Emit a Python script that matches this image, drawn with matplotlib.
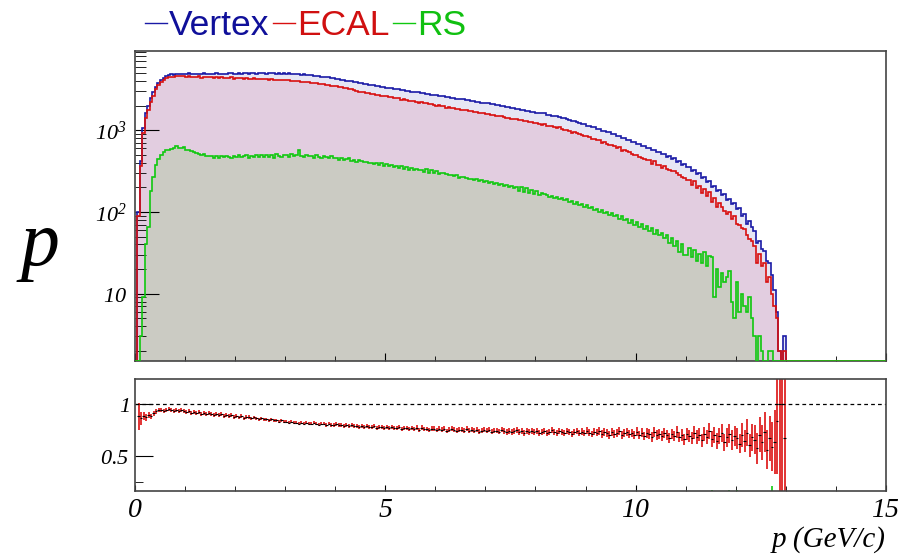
import matplotlib.pyplot as plt
import numpy as np
from matplotlib.lines import Line2D
from matplotlib.ticker import FixedLocator, FuncFormatter, MultipleLocator, LogLocator, NullFormatter

plt.rcParams['mathtext.fontset'] = 'custom'
plt.rcParams['mathtext.rm'] = 'Liberation Serif:italic'
plt.rcParams['mathtext.it'] = 'Liberation Serif:italic'

# momentum bins of 0.05 GeV/c, 0..13 GeV/c filled, empty up to 15
bin_width = 0.05
p_max = 15.0

vertex = [
    0, 100, 420, 1050, 1600, 2000, 2500, 2900, 3400, 3800,
    4100, 4400, 4600, 4750, 4810, 4780, 4860, 4890, 4930, 4900,
    4860, 4950, 4880, 4910, 4870, 4930, 4890, 4940, 4900, 4880,
    4920, 4890, 4950, 4870, 4910, 4930, 4880, 4940, 4960, 4900,
    4920, 4960, 4900, 4940, 4980, 4910, 4950, 4990, 4930, 4960,
    4940, 4980, 4920, 4960, 5010, 4950, 4930, 4970, 4910, 4940,
    4900, 4950, 4860, 4890, 4830, 4870, 4790, 4810, 4740, 4730,
    4690, 4660, 4610, 4570, 4520, 4490, 4430, 4410, 4340, 4320,
    4250, 4220, 4160, 4110, 4050, 4020, 3950, 3910, 3840, 3810,
    3740, 3710, 3650, 3610, 3560, 3530, 3470, 3440, 3390, 3370,
    3320, 3300, 3250, 3230, 3180, 3160, 3110, 3090, 3040, 3020,
    2970, 2960, 2910, 2890, 2840, 2830, 2790, 2770, 2730, 2710,
    2660, 2650, 2600, 2590, 2540, 2540, 2490, 2480, 2440, 2430,
    2380, 2380, 2330, 2320, 2280, 2270, 2230, 2220, 2180, 2170,
    2130, 2120, 2080, 2070, 2030, 2020, 1980, 1970, 1930, 1920,
    1880, 1870, 1830, 1820, 1780, 1780, 1730, 1730, 1690, 1690,
    1640, 1640, 1600, 1600, 1550, 1550, 1510, 1510, 1470, 1460,
    1420, 1410, 1360, 1350, 1300, 1290, 1250, 1240, 1190, 1190,
    1140, 1130, 1090, 1080, 1040, 1030, 990, 990, 940, 940,
    900, 890, 850, 850, 800, 800, 760, 760, 720, 720,
    680, 680, 640, 640, 600, 600, 570, 570, 540, 535,
    505, 510, 475, 480, 445, 455, 410, 420, 380, 390,
    350, 355, 318, 330, 288, 298, 262, 270, 232, 238,
    200, 208, 178, 186, 160, 164, 140, 142, 124, 128,
    108, 112, 90, 95, 72, 78, 65, 58, 42, 44,
    35, 33, 25, 24, 17, 11, 6, 2, 1, 3,
]

ecal_over_vertex = [
    0.00, 0.88, 0.86, 0.88, 0.87, 0.89, 0.88, 0.91, 0.93, 0.94,
    0.94, 0.93, 0.94, 0.95, 0.94, 0.93, 0.94, 0.93, 0.94, 0.93,
    0.92, 0.93, 0.91, 0.92, 0.91, 0.92, 0.90, 0.91, 0.90, 0.91,
    0.90, 0.89, 0.90, 0.89, 0.90, 0.88, 0.89, 0.88, 0.89, 0.87,
    0.88, 0.87, 0.88, 0.86, 0.87, 0.87, 0.86, 0.87, 0.86, 0.85,
    0.86, 0.85, 0.85, 0.84, 0.85, 0.84, 0.84, 0.83, 0.84, 0.83,
    0.83, 0.82, 0.83, 0.82, 0.82, 0.81, 0.82, 0.81, 0.82, 0.81,
    0.81, 0.82, 0.81, 0.80, 0.81, 0.81, 0.80, 0.81, 0.80, 0.80,
    0.81, 0.80, 0.80, 0.79, 0.80, 0.79, 0.80, 0.79, 0.79, 0.78,
    0.79, 0.78, 0.79, 0.78, 0.78, 0.79, 0.77, 0.78, 0.78, 0.77,
    0.78, 0.77, 0.78, 0.77, 0.77, 0.78, 0.76, 0.77, 0.77, 0.76,
    0.77, 0.76, 0.77, 0.75, 0.77, 0.76, 0.76, 0.75, 0.76, 0.76,
    0.75, 0.76, 0.75, 0.76, 0.74, 0.75, 0.76, 0.75, 0.74, 0.75,
    0.75, 0.74, 0.76, 0.74, 0.75, 0.74, 0.75, 0.73, 0.74, 0.75,
    0.74, 0.75, 0.73, 0.74, 0.74, 0.73, 0.75, 0.74, 0.73, 0.74,
    0.73, 0.74, 0.75, 0.73, 0.74, 0.72, 0.74, 0.73, 0.74, 0.73,
    0.74, 0.72, 0.73, 0.74, 0.72, 0.73, 0.75, 0.73, 0.72, 0.74,
    0.73, 0.72, 0.74, 0.73, 0.71, 0.73, 0.74, 0.72, 0.73, 0.72,
    0.74, 0.72, 0.71, 0.73, 0.72, 0.74, 0.71, 0.73, 0.72, 0.70,
    0.73, 0.71, 0.72, 0.74, 0.70, 0.72, 0.73, 0.71, 0.72, 0.70,
    0.73, 0.70, 0.72, 0.69, 0.72, 0.71, 0.68, 0.73, 0.70, 0.71,
    0.69, 0.72, 0.70, 0.67, 0.71, 0.69, 0.73, 0.68, 0.70, 0.66,
    0.71, 0.69, 0.67, 0.72, 0.68, 0.70, 0.65, 0.71, 0.68, 0.74,
    0.66, 0.70, 0.64, 0.69, 0.72, 0.63, 0.68, 0.71, 0.65, 0.69,
    0.67, 0.62, 0.70, 0.64, 0.72, 0.60, 0.68, 0.66, 0.58, 0.70,
    0.63, 0.74, 0.55, 0.68, 0.59, 0.64, 0.80, 1.00, 1.00, 0.67,
]

rs = [
    0, 0, 3, 9, 40, 66, 178, 270, 377, 443,
    500, 548, 575, 580, 590, 600, 640, 610, 600, 620,
    580, 570, 560, 545, 530, 510, 500, 505, 490, 480,
    485, 460, 478, 455, 490, 465, 482, 470, 455, 488,
    465, 495, 470, 480, 500, 462, 488, 472, 498, 476,
    492, 468, 500, 476, 494, 462, 505, 480, 470, 498,
    492, 472, 505, 480, 498, 565, 486, 470, 498, 480,
    482, 462, 494, 470, 458, 484, 465, 452, 478, 458,
    460, 436, 462, 432, 440, 452, 418, 436, 412, 428,
    420, 408, 410, 400, 398, 390, 394, 376, 398, 368,
    384, 362, 378, 352, 368, 342, 362, 336, 354, 330,
    346, 326, 336, 330, 330, 310, 334, 302, 322, 296,
    316, 292, 300, 298, 292, 280, 286, 276, 280, 262,
    270, 266, 262, 252, 256, 246, 250, 240, 244, 232,
    238, 228, 230, 220, 224, 212, 218, 206, 212, 200,
    206, 196, 202, 182, 200, 176, 194, 170, 186, 166,
    180, 160, 170, 164, 162, 152, 158, 148, 152, 142,
    148, 138, 142, 132, 136, 126, 132, 120, 126, 116,
    122, 112, 116, 106, 110, 100, 106, 96, 100, 92,
    96, 88, 92, 82, 88, 80, 82, 74, 80, 70,
    76, 66, 72, 62, 68, 58, 64, 54, 60, 52,
    56, 48, 52, 42, 48, 38, 44, 32, 40, 30,
    30, 36, 28, 34, 25, 31, 24, 32, 22, 29,
    28, 9, 20, 12, 18, 14, 16, 19, 8, 5,
    14, 6, 10, 7, 6, 9, 5, 3, 0, 3,
    2, 0, 1, 2, 2, 0, 0, 0, 0, 0,
]

labels = ['Vertex', 'ECAL', 'RS']
line_colors = ['#1a1aa6', '#d81010', '#10c810']
fill_colors = ['#e6e6f4', '#e2cde0', '#cbcbc3']
text_colors = ['#10109a', '#d01010', '#10c010']

n_bins = int(round(p_max / bin_width))
edges = np.arange(n_bins + 1) * bin_width
centers = edges[:-1] + bin_width / 2
n_empty = n_bins - len(vertex)

vertex_c = np.concatenate([np.array(vertex, float), np.zeros(n_empty)])
ecal_c = np.concatenate([np.round(np.array(vertex) * np.array(ecal_over_vertex)), np.zeros(n_empty)])
rs_c = np.concatenate([np.array(rs, float), np.zeros(n_empty)])

y_min, y_max = 1.5, 9300

fig = plt.figure(figsize=(9.01, 5.55), dpi=100)
ax = fig.add_axes([0.1498, 0.3495, 0.8335, 0.5586])
ax2 = fig.add_axes([0.1498, 0.1153, 0.8335, 0.2018])

counts_all = [vertex_c, ecal_c, rs_c]
for counts, fc in zip(counts_all, fill_colors):
    ax.stairs(np.clip(counts, y_min * 1.01, None), edges, fill=True, color=fc,
              baseline=1.0, zorder=1)
for counts, lc in zip(counts_all, line_colors):
    ax.stairs(np.clip(counts, y_min * 1.01, None), edges, color=lc, lw=1.2,
              baseline=None, zorder=3)

ax.set_yscale('log')
ax.set_xlim(0, p_max)
ax.set_ylim(y_min, y_max)

ax.xaxis.set_major_locator(MultipleLocator(5))
ax.xaxis.set_minor_locator(MultipleLocator(1))
ax.tick_params(axis='x', which='both', direction='in', labelbottom=False, top=False)
ax.tick_params(axis='x', which='major', length=6)
ax.tick_params(axis='x', which='minor', length=3.6)

ax.yaxis.set_major_locator(FixedLocator([10, 100, 1000]))
ax.yaxis.set_major_formatter(FuncFormatter(
    lambda v, pos: {10: '$10$', 100: '$10^{2}$', 1000: '$10^{3}$'}.get(int(round(v)), '')))
ax.yaxis.set_minor_locator(LogLocator(base=10, subs=range(2, 10), numticks=20))
ax.yaxis.set_minor_formatter(NullFormatter())
ax.tick_params(axis='y', which='both', direction='in', right=False, labelsize=16, pad=6)
ax.tick_params(axis='y', which='major', length=17)
ax.tick_params(axis='y', which='minor', length=8)

ax.set_ylabel('p', rotation=0, fontsize=56, family='Liberation Serif', style='italic',
              ha='left', va='baseline')
ax.yaxis.set_label_coords(-0.153, 0.31)

handles = [Line2D([], [], color=c, lw=1.0) for c in line_colors]
leg = ax.legend(handles, labels, ncol=3, frameon=False, loc='upper left',
                bbox_to_anchor=(145 / 901, 1 - 9 / 555), bbox_transform=fig.transFigure,
                prop={'family': 'Liberation Sans', 'size': 25.5},
                handlelength=0.62, handletextpad=0.06, columnspacing=0.1,
                borderpad=0, borderaxespad=0)
for txt, c in zip(leg.get_texts(), text_colors):
    txt.set_color(c)

# ratio panel
def ratio(num, den):
    ok = den > 0
    d = np.where(ok, den, 1.0)
    r = np.where(ok, num / d, np.nan)
    e = np.where(ok, np.sqrt(num * den * (num + den)) / d ** 2, np.nan)
    return r, e

r_rs, e_rs = ratio(rs_c, vertex_c)
r_ecal, e_ecal = ratio(ecal_c, vertex_c)

ax2.errorbar(centers, r_rs, yerr=e_rs, fmt='none', ecolor='#10c810', elinewidth=1.2)
ax2.errorbar(centers, r_ecal, yerr=e_ecal, fmt='none', ecolor='#dd1010', elinewidth=1.2)
ax2.errorbar(centers, r_ecal, xerr=bin_width / 2, fmt='none', ecolor='black', elinewidth=0.8)
ax2.axhline(1.0, color='black', ls=(0, (3, 2.5)), lw=0.9)

ax2.set_xlim(0, p_max)
ax2.set_ylim(0.16, 1.24)
ax2.xaxis.set_major_locator(MultipleLocator(5))
ax2.xaxis.set_minor_locator(MultipleLocator(1))
ax2.xaxis.set_major_formatter(FuncFormatter(lambda v, pos: '$%g$' % v))
ax2.tick_params(axis='x', which='both', direction='in', top=False, labelsize=20, pad=3)
ax2.tick_params(axis='x', which='major', length=4.5)
ax2.tick_params(axis='x', which='minor', length=3.6)
ax2.yaxis.set_major_locator(FixedLocator([0.5, 1.0]))
ax2.yaxis.set_minor_locator(FixedLocator([0.25]))
ax2.yaxis.set_major_formatter(FuncFormatter(lambda v, pos: '$%g$' % v))
ax2.tick_params(axis='y', which='both', direction='in', right=False, labelsize=16, pad=4)
ax2.tick_params(axis='y', which='major', length=13)
ax2.tick_params(axis='y', which='minor', length=6)

ax2.set_xlabel('p (GeV/c)', loc='right', fontsize=21, family='Liberation Serif',
               style='italic', labelpad=2)

for a in (ax, ax2):
    for s in a.spines.values():
        s.set_color('#444444')
        s.set_linewidth(1.2)

fig.savefig('out.png', dpi=100)
